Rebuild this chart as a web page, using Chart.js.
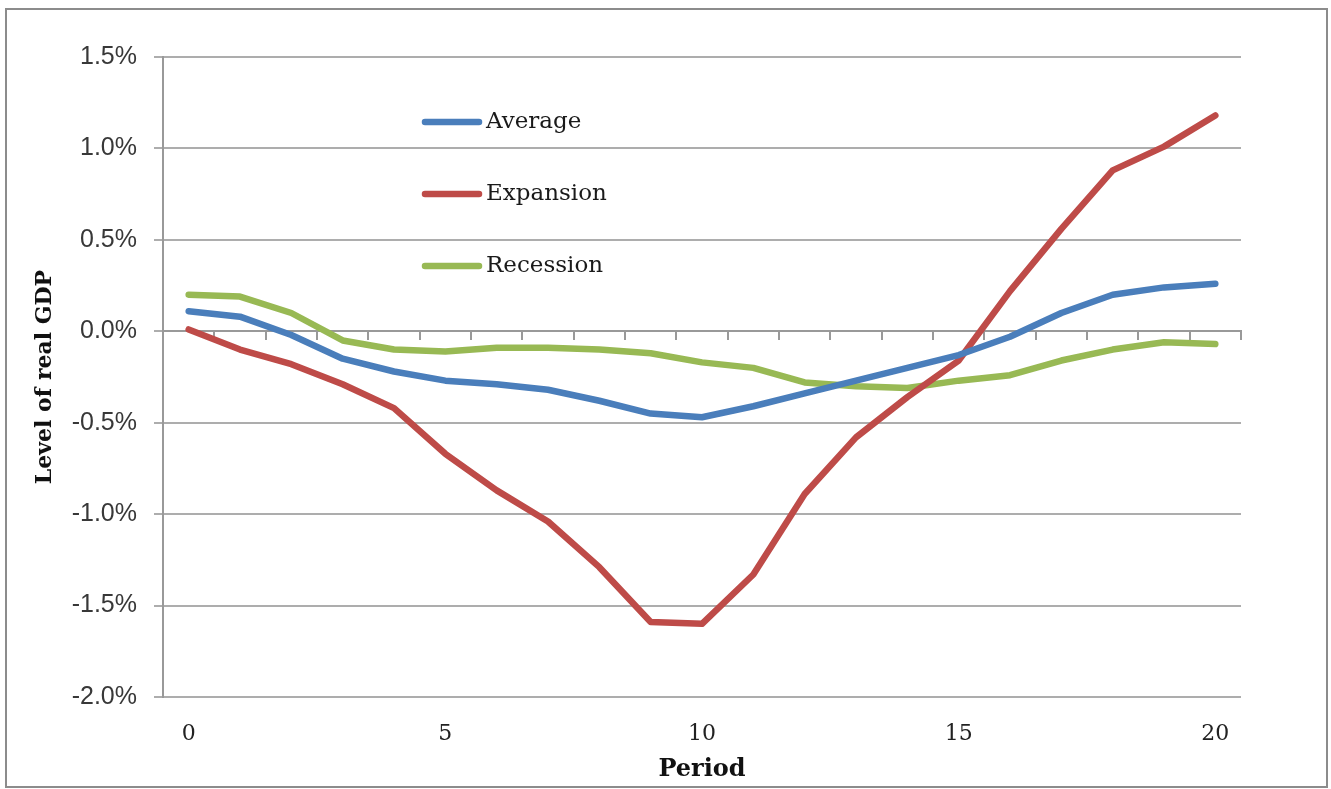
<!DOCTYPE html>
<html><head><meta charset="utf-8">
<script src="https://cdn.jsdelivr.net/npm/chart.js@4.4.1/dist/chart.umd.min.js"></script>
<style>
html,body{margin:0;padding:0;background:#fff;width:1331px;height:789px;overflow:hidden}
#wrap{position:absolute;left:0;top:0;width:1331px;height:789px}
#frame{position:absolute;left:5px;top:8px;width:1319px;height:776px;border:2px solid #8c8c8c;pointer-events:none}
</style></head><body>
<div id="wrap"><canvas id="c" width="1331" height="789"></canvas></div>
<div id="frame"></div>
<script>
const periods = ['0','1','2','3','4','5','6','7','8','9','10','11','12','13','14','15','16','17','18','19','20'];
const seriesNames = ['Average','Expansion','Recession'];
const average   = [0.11, 0.08, -0.02, -0.15, -0.22, -0.27, -0.29, -0.32, -0.38, -0.45, -0.47, -0.41, -0.34, -0.27, -0.20, -0.13, -0.03, 0.10, 0.20, 0.24, 0.26];
const expansion = [0.01, -0.10, -0.18, -0.29, -0.42, -0.67, -0.87, -1.04, -1.29, -1.59, -1.60, -1.33, -0.89, -0.58, -0.36, -0.16, 0.22, 0.56, 0.88, 1.01, 1.18];
const recession = [0.20, 0.19, 0.10, -0.05, -0.10, -0.11, -0.09, -0.09, -0.10, -0.12, -0.17, -0.20, -0.28, -0.30, -0.31, -0.27, -0.24, -0.16, -0.10, -0.06, -0.07];
const seriesColors = ['#4A7EBB', '#BE4B48', '#98B954'];
const yMin = -2.0, yMax = 1.5, yStep = 0.5;

const insideLegend = {
  id: 'insideLegend',
  afterDatasetsDraw(chart) {
    const {ctx, chartArea} = chart;
    ctx.save();
    chart.data.datasets.forEach((ds, i) => {
      const y = chartArea.top + 65 + i * 72;
      const x0 = chartArea.left + 262;
      ctx.strokeStyle = ds.borderColor;
      ctx.lineWidth = 6.5;
      ctx.lineCap = 'round';
      ctx.beginPath(); ctx.moveTo(x0, y); ctx.lineTo(x0 + 54, y); ctx.stroke();
      ctx.fillStyle = '#1a1a1a';
      ctx.font = '23px "DejaVu Serif"';
      ctx.textBaseline = 'middle';
      ctx.textAlign = 'left';
      ctx.fillText(ds.label, x0 + 61, y);
    });
    ctx.restore();
  }
};

new Chart(document.getElementById('c'), {
  type: 'line',
  data: {
    labels: periods,
    datasets: [
      {label: seriesNames[0], data: average, borderColor: seriesColors[0]},
      {label: seriesNames[1], data: expansion, borderColor: seriesColors[1]},
      {label: seriesNames[2], data: recession, borderColor: seriesColors[2]}
    ]
  },
  options: {
    responsive: false, animation: false, devicePixelRatio: 1,
    layout: {padding: {top: 57, right: 90, bottom: 0, left: 0}},
    plugins: {legend: {display: false}, tooltip: {enabled: false}},
    elements: {
      point: {radius: 0, hoverRadius: 0},
      line: {tension: 0, borderWidth: 6.5, borderCapStyle: 'round', borderJoinStyle: 'round', fill: false}
    },
    scales: {
      x: {
        type: 'category', position: 'bottom', offset: true,
        grid: {display: false, drawTicks: false},
        border: {display: false},
        ticks: {autoSkip: false, maxRotation: 0, padding: 24,
          font: {family: 'DejaVu Serif', size: 22}, color: '#222',
          callback: (v, i) => (i % 5 === 0 ? periods[i] : '')},
        title: {display: true, text: 'Period', color: '#111',
          font: {family: 'DejaVu Serif', size: 24, weight: 'bold'}, padding: {top: 0, bottom: 5}},
        afterFit: s => { s.height = 92; }
      },
      x0: {
        type: 'category', position: {y: 0}, offset: true,
        grid: {display: true, offset: true, drawOnChartArea: false, drawTicks: true, tickLength: 8, color: '#999', lineWidth: 2},
        border: {display: true, color: '#999', width: 2},
        ticks: {display: false}
      },
      y: {
        type: 'linear', min: yMin, max: yMax,
        ticks: {stepSize: yStep, padding: 17, color: '#383838',
          font: {family: 'Liberation Sans', size: 25},
          callback: v => v.toFixed(1) + '%'},
        grid: {color: '#adadad', lineWidth: 2, tickLength: 9},
        border: {display: true, color: '#999', width: 2},
        title: {display: true, text: 'Level of real GDP', color: '#111',
          font: {family: 'DejaVu Serif', size: 22, weight: 'bold'}, padding: {top: 32, bottom: 0}},
        afterFit: s => { s.width = 163; }
      }
    }
  },
  plugins: [insideLegend]
});
</script>
</body></html>
